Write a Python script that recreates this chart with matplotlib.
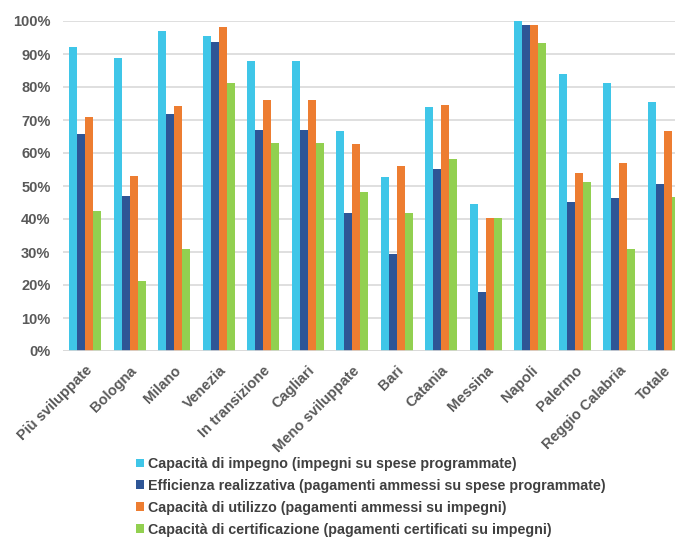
import matplotlib.pyplot as plt
import numpy as np

plt.rcParams['font.family'] = ['Liberation Sans', 'DejaVu Sans']

categories = ["Più sviluppate", "Bologna", "Milano", "Venezia", "In transizione",
              "Cagliari", "Meno sviluppate", "Bari", "Catania", "Messina",
              "Napoli", "Palermo", "Reggio Calabria", "Totale"]

impegno = [92.0, 88.8, 97.0, 95.5, 87.8, 87.8, 66.6, 52.6, 73.9, 44.6, 100.0, 83.9, 81.2, 75.5]
efficienza = [65.8, 47.1, 71.8, 93.7, 66.9, 66.9, 41.7, 29.4, 55.2, 18.0, 98.9, 45.3, 46.4, 50.5]
utilizzo = [71.0, 53.0, 74.2, 98.1, 76.1, 76.1, 62.7, 56.0, 74.6, 40.3, 98.9, 53.9, 57.1, 66.7]
certificazione = [42.5, 21.3, 30.8, 81.2, 62.9, 62.9, 48.1, 41.7, 58.3, 40.3, 93.2, 51.3, 31.0, 46.8]

series_labels = ["Capacità di impegno (impegni su spese programmate)",
                 "Efficienza realizzativa (pagamenti ammessi su spese programmate)",
                 "Capacità di utilizzo (pagamenti ammessi su impegni)",
                 "Capacità di certificazione (pagamenti certificati su impegni)"]
colors = ["#3fc6e8", "#2e5596", "#ed7d31", "#92d050"]

fig = plt.figure(figsize=(6.75, 5.4), dpi=100)
# axes runs a bit past the right edge, like the source image which is cropped
ax = fig.add_axes([63 / 675, 1 - 351 / 540, 623 / 675, 330 / 540])

x = np.arange(len(categories))
w = 0.18
handles = []
for i, (vals, lab, col) in enumerate(zip([impegno, efficienza, utilizzo, certificazione],
                                         series_labels, colors)):
    h = ax.bar(x + (i - 1.5) * w, vals, width=w, color=col, label=lab, zorder=3)
    handles.append(h)

ax.set_xlim(-0.5, len(categories) - 0.5)
ax.set_ylim(0, 100)
ax.set_yticks(np.arange(0, 101, 10))
ax.set_yticklabels([f"{v}%" for v in range(0, 101, 10)])
ax.grid(axis='y', color='#d9d9d9', linewidth=1.2, zorder=0)
for s in ax.spines.values():
    s.set_visible(False)
ax.axhline(0, color='#d9d9d9', linewidth=1.2, zorder=4)
ax.tick_params(length=0, labelsize=10.5, labelcolor='#595959')
ax.tick_params(axis='y', pad=9)
ax.tick_params(axis='x', pad=9)
ax.set_xticks(x)
ax.set_xticklabels(categories, rotation=45, ha='right', rotation_mode='anchor')
for t in ax.get_xticklabels() + ax.get_yticklabels():
    t.set_fontweight('bold')

fig.legend(handles=handles, loc='upper left', bbox_to_anchor=(136 / 675, 1 - 457 / 540),
           frameon=False, handlelength=0.55, handleheight=0.55,
           handletextpad=0.3, labelspacing=0.55, borderaxespad=0, borderpad=0,
           labelcolor='#404040', prop={'weight': 'bold', 'size': 10.3})

fig.savefig("out.png", dpi=100)
